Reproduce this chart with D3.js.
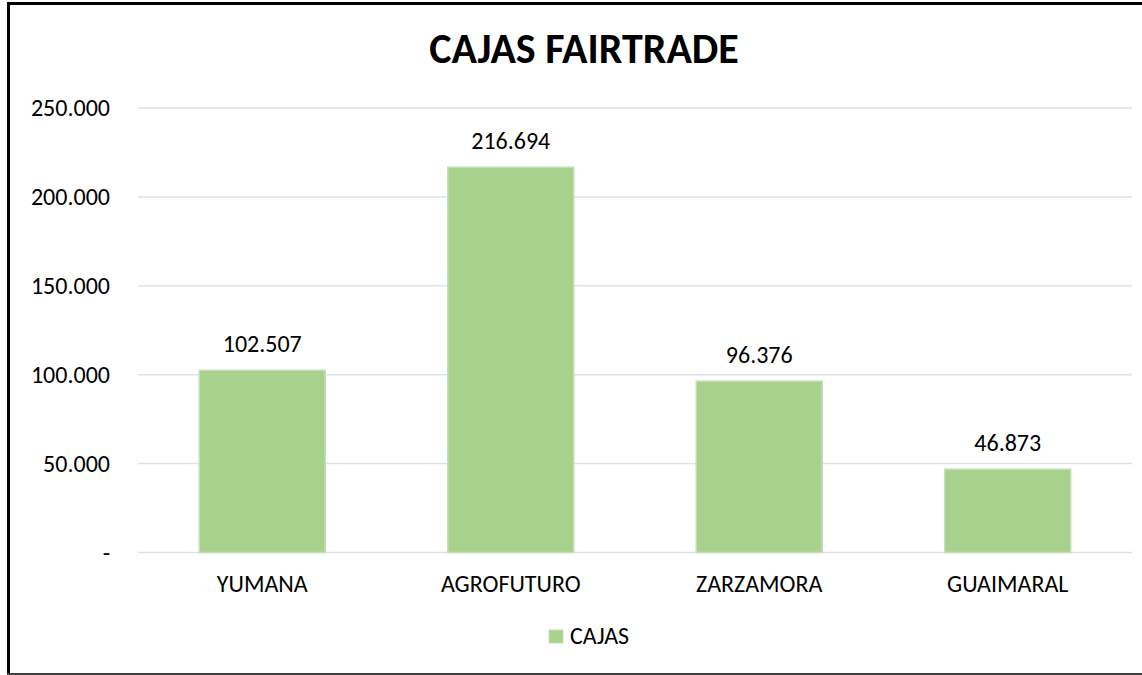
<!DOCTYPE html>
<html>
<head>
<meta charset="utf-8">
<script src="https://cdn.jsdelivr.net/npm/d3@7"></script>
<style>
  html, body { margin: 0; padding: 0; background: #fff; }
  svg text { font-family: Carlito, Lato, "Open Sans", sans-serif; fill: #000; }
</style>
</head>
<body>
<div id="chart"></div>
<script>
// data
const categories = ["YUMANA", "AGROFUTURO", "ZARZAMORA", "GUAIMARAL"];
const cajas = [102507, 216694, 96376, 46873];
const yTicks = [0, 50000, 100000, 150000, 200000, 250000];
const seriesName = "CAJAS";
const title = "CAJAS FAIRTRADE";

const width = 1142, height = 675;
const margin = { top: 108, right: 10, bottom: 122, left: 138 };

const locale = d3.formatLocale({ decimal: ",", thousands: ".", grouping: [3], currency: ["$", ""] });
const fmt = locale.format(",.0f");
const tickFmt = d => d === 0 ? "-" : fmt(d);

const svg = d3.select("#chart")
  .append("svg")
  .attr("width", width)
  .attr("height", height);

// frame
svg.append("line").attr("x1", 8.5).attr("x2", 8.5).attr("y1", 2).attr("y2", 675)
  .attr("stroke", "#000").attr("stroke-width", 3);
svg.append("line").attr("x1", 7).attr("x2", 1142).attr("y1", 3.5).attr("y2", 3.5)
  .attr("stroke", "#000").attr("stroke-width", 3);
svg.append("line").attr("x1", 7).attr("x2", 1142).attr("y1", 674).attr("y2", 674)
  .attr("stroke", "#404040").attr("stroke-width", 2);

const x = d3.scaleBand()
  .domain(categories)
  .range([margin.left, width - margin.right])
  .paddingInner(0.493)
  .paddingOuter(0.2465);

const y = d3.scaleLinear()
  .domain([0, 250000])
  .range([552.5, margin.top]);

// gridlines
svg.append("g")
  .selectAll("line")
  .data(yTicks)
  .enter().append("line")
  .attr("x1", margin.left)
  .attr("x2", width - margin.right)
  .attr("y1", d => y(d))
  .attr("y2", d => y(d))
  .attr("stroke", "#dde2e8")
  .attr("stroke-width", 1.5);

// y axis labels
const yAxis = svg.append("g")
  .attr("transform", `translate(${margin.left - 28},0)`)
  .call(d3.axisLeft(y).tickValues(yTicks).tickFormat(tickFmt).tickSize(0).tickPadding(0));
yAxis.select(".domain").remove();
yAxis.selectAll("text")
  .attr("font-size", 24)
  .attr("dy", "0.33em")
  .style("font-family", null);

// bars
svg.append("g")
  .selectAll("rect")
  .data(cajas)
  .enter().append("rect")
  .attr("x", (d, i) => x(categories[i]))
  .attr("y", d => y(d))
  .attr("width", x.bandwidth())
  .attr("height", d => y(0) - y(d))
  .attr("fill", "#a9d18e")
  .attr("stroke", "#c5e0b4")
  .attr("stroke-width", 1.5);

// value labels
svg.append("g")
  .selectAll("text")
  .data(cajas)
  .enter().append("text")
  .attr("x", (d, i) => x(categories[i]) + x.bandwidth() / 2)
  .attr("y", d => y(d) - 18)
  .attr("text-anchor", "middle")
  .attr("font-size", 24)
  .text(d => fmt(d));

// x axis labels
const xAxis = svg.append("g")
  .attr("transform", `translate(0,${y(0)})`)
  .call(d3.axisBottom(x).tickSize(0).tickPadding(0));
xAxis.select(".domain").remove();
xAxis.selectAll("text")
  .attr("font-size", 24)
  .attr("dy", 0)
  .attr("y", 39)
  .style("font-family", null);

// title
svg.append("text")
  .attr("x", 584)
  .attr("y", 63)
  .attr("text-anchor", "middle")
  .attr("font-size", 42)
  .attr("font-weight", "bold")
  .text(title);

// legend
const legend = svg.append("g").attr("transform", "translate(549,630)");
legend.append("rect")
  .attr("width", 14).attr("height", 13)
  .attr("fill", "#a9d18e")
  .attr("stroke", "#c5e0b4");
legend.append("text")
  .attr("x", 21)
  .attr("y", 14)
  .attr("font-size", 24)
  .text(seriesName);
</script>
</body>
</html>
